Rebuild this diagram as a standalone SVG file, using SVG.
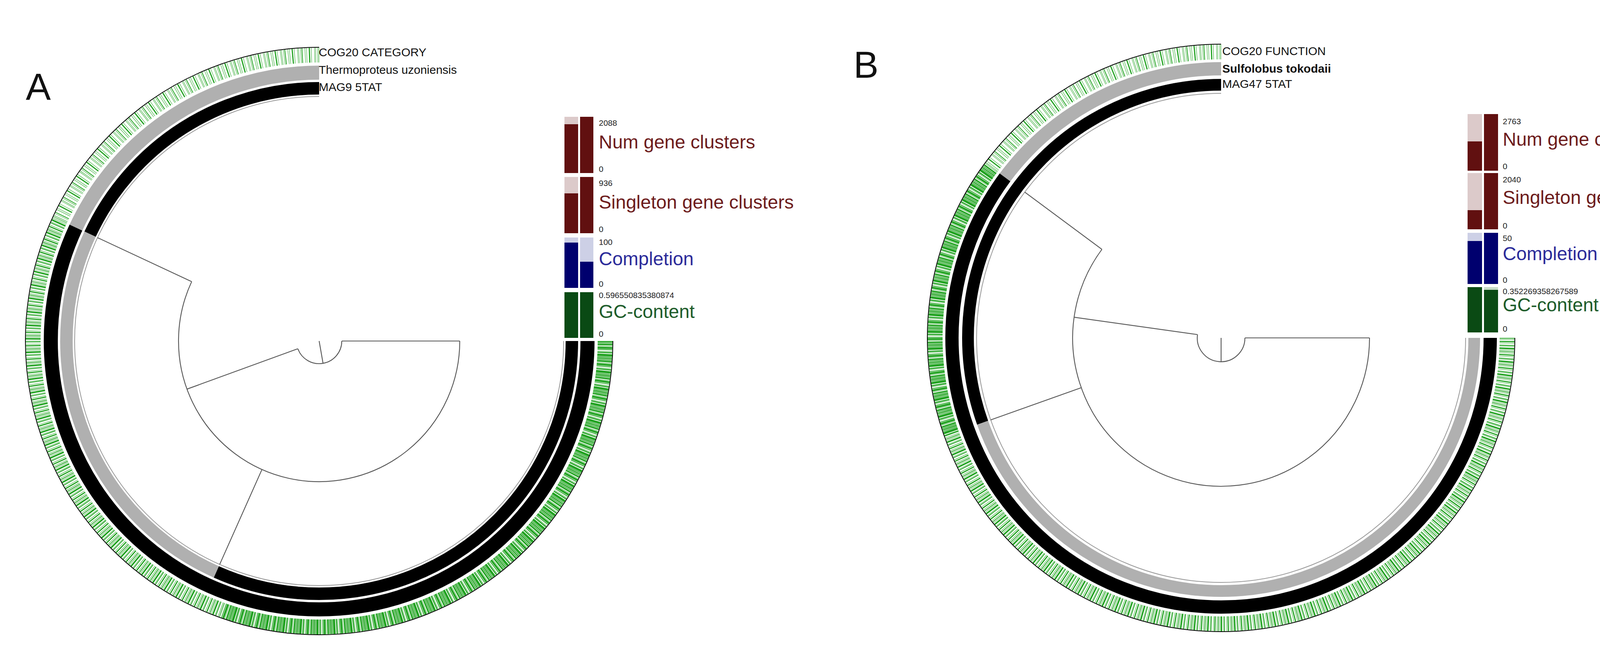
<svg xmlns="http://www.w3.org/2000/svg" width="4396" height="1664" viewBox="0 0 4396 1664">
<style>
text{font-family:"Liberation Sans",Arial,sans-serif;}
.ring{fill:none;}
.tree{fill:none;stroke:#555;stroke-width:2.2;}
.lab{font-size:30px;fill:#111;}
.num{font-size:21px;fill:#222;}
.big{font-size:48px;}
.panel{font-size:96px;fill:#111;}
.g{fill:none;stroke:#22a322;stroke-width:38;}
.dr{fill:#611010}.lr{fill:#dccaca}.nb{fill:#00006e}.lb{fill:#cdd0e6}.dg{fill:#0a4a14}.lg{fill:#c8dcc8}
</style>
<defs>
<clipPath id="aD"><polygon points="817,873 1717,873 1717,1773 509,1719"/></clipPath>
<clipPath id="aM"><polygon points="817,873 509,1719 -83,1773 1.3,492.7"/></clipPath>
<clipPath id="aS"><polygon points="817,873 1.3,492.7 -83,-27 817,-27"/></clipPath>
<clipPath id="bM"><polygon points="3126,865 4026,865 4026,1765 2226,1765 2278,1167"/></clipPath>
<clipPath id="bD"><polygon points="3126,865 2278,1167 2150,1000 2150,400 2403.5,328.4"/></clipPath>
<clipPath id="bS"><polygon points="3126,865 2403.5,328.4 2300,-35 3126,-35"/></clipPath>
</defs>

<g id="panelA">
<text class="panel" x="66" y="255">A</text>
<g id="A-cog-ring">
<circle cx="817" cy="873" r="732" class="g" clip-path="url(#aD)" stroke-dasharray="3 1 2 1 4 2 1 1 5 1 2 3 1 1 3 2 6 1 2 1"/>
<circle cx="817" cy="873" r="732" class="g" clip-path="url(#aM)" stroke-dasharray="2 2 1 3 3 2 1 4 2 1 1 3 4 2 1 2"/>
<circle cx="817" cy="873" r="732" class="g" clip-path="url(#aS)" stroke="#4fb84f" stroke-dasharray="1 4 1 2 2 6 1 3 1 5 3 3 1 7 1 2"/>
<circle cx="817" cy="873" r="752" class="ring" stroke="#000" stroke-width="2" pathLength="360" stroke-dasharray="270 90"/>
</g>
<g id="A-ring-thermoproteus">
<circle cx="817" cy="873" r="687" class="ring" stroke="#b0b0b0" stroke-width="36" pathLength="360" stroke-dasharray="65 295" stroke-dashoffset="-205"/>
<circle cx="817" cy="873" r="687" class="ring" stroke="#000" stroke-width="36" pathLength="360" stroke-dasharray="205 155"/>
</g>
<g id="A-ring-mag9">
<circle cx="817" cy="873" r="647" class="ring" stroke="#000" stroke-width="32" pathLength="360" stroke-dasharray="65 295" stroke-dashoffset="-205"/>
<circle cx="817" cy="873" r="647" class="ring" stroke="#b0b0b0" stroke-width="32" pathLength="360" stroke-dasharray="91 269" stroke-dashoffset="-114"/>
<circle cx="817" cy="873" r="647" class="ring" stroke="#000" stroke-width="32" pathLength="360" stroke-dasharray="114 246"/>
<circle cx="817" cy="873" r="626" class="ring" stroke="#999" stroke-width="2" pathLength="360" stroke-dasharray="270 90"/>
</g>
<text class="lab" x="816" y="144">COG20 CATEGORY</text>
<text class="lab" x="816" y="189">Thermoproteus uzoniensis</text>
<text class="lab" x="816" y="233">MAG9 5TAT</text>
<g id="A-bars">
<rect class="lr" x="1445" y="299" width="35" height="19"/><rect class="dr" x="1445" y="318" width="35" height="125"/>
<rect class="dr" x="1485" y="299" width="34" height="144"/>
<rect class="lr" x="1445" y="453" width="35" height="42"/><rect class="dr" x="1445" y="495" width="35" height="102"/>
<rect class="dr" x="1485" y="453" width="34" height="144"/>
<rect class="lb" x="1445" y="608" width="35" height="13"/><rect class="nb" x="1445" y="621" width="35" height="116"/>
<rect class="lb" x="1485" y="608" width="34" height="62"/><rect class="nb" x="1485" y="670" width="34" height="67"/>
<rect class="dg" x="1445" y="748" width="35" height="117"/><rect class="dg" x="1485" y="748" width="34" height="117"/>
<text class="num" x="1533" y="322">2088</text>
<text class="big" x="1533" y="380" fill="#6d1c1c">Num gene clusters</text>
<text class="num" x="1533" y="440">0</text>
<text class="num" x="1533" y="476">936</text>
<text class="big" x="1533" y="534" fill="#6d1c1c">Singleton gene clusters</text>
<text class="num" x="1533" y="594">0</text>
<text class="num" x="1533" y="627">100</text>
<text class="big" x="1533" y="679" fill="#2b2b9a">Completion</text>
<text class="num" x="1533" y="734">0</text>
<text class="num" x="1533" y="763" font-size="17">0.596550835380874</text>
<text class="big" x="1533" y="814" fill="#1d5c2a">GC-content</text>
<text class="num" x="1533" y="862">0</text>
</g>
</g>

<g id="panelB">
<text class="panel" x="2185" y="199">B</text>
<g id="B-cog-ring">
<circle cx="3126" cy="865" r="732" class="g" clip-path="url(#bM)" stroke-dasharray="2 2 1 3 3 2 1 4 2 1 1 3 4 2 1 2"/>
<circle cx="3126" cy="865" r="732" class="g" clip-path="url(#bD)" stroke-dasharray="3 1 2 1 4 2 1 1 5 1 2 3 1 1 3 2 6 1 2 1"/>
<circle cx="3126" cy="865" r="732" class="g" clip-path="url(#bS)" stroke="#4fb84f" stroke-dasharray="1 4 1 2 2 6 1 3 1 5 3 3 1 7 1 2"/>
<circle cx="3126" cy="865" r="752" class="ring" stroke="#000" stroke-width="2" pathLength="360" stroke-dasharray="270 90"/>
</g>
<g id="B-ring-sulfolobus">
<circle cx="3126" cy="865" r="689" class="ring" stroke="#b0b0b0" stroke-width="34" pathLength="360" stroke-dasharray="53.4 306.6" stroke-dashoffset="-216.6"/>
<circle cx="3126" cy="865" r="689" class="ring" stroke="#000" stroke-width="34" pathLength="360" stroke-dasharray="216.6 143.4"/>
</g>
<g id="B-ring-mag47">
<circle cx="3126" cy="865" r="648" class="ring" stroke="#000" stroke-width="30" pathLength="360" stroke-dasharray="109.6 250.4" stroke-dashoffset="-160.4"/>
<circle cx="3126" cy="865" r="648" class="ring" stroke="#b0b0b0" stroke-width="30" pathLength="360" stroke-dasharray="160.4 199.6"/>
<circle cx="3126" cy="865" r="626" class="ring" stroke="#999" stroke-width="2" pathLength="360" stroke-dasharray="270 90"/>
</g>
<text class="lab" x="3129" y="141">COG20 FUNCTION</text>
<text class="lab" x="3129" y="186" font-weight="bold">Sulfolobus tokodaii</text>
<text class="lab" x="3129" y="225">MAG47 5TAT</text>
<g id="B-bars">
<rect class="lr" x="3757" y="292" width="37" height="70"/><rect class="dr" x="3757" y="362" width="37" height="75"/>
<rect class="dr" x="3799" y="292" width="36" height="145"/>
<rect class="lr" x="3757" y="443" width="37" height="95"/><rect class="dr" x="3757" y="538" width="37" height="49"/>
<rect class="dr" x="3799" y="443" width="36" height="144"/>
<rect class="lb" x="3757" y="596" width="37" height="21"/><rect class="nb" x="3757" y="617" width="37" height="110"/>
<rect class="nb" x="3799" y="596" width="36" height="131"/>
<rect class="dg" x="3757" y="735" width="37" height="116"/>
<rect class="lg" x="3799" y="735" width="36" height="7"/><rect class="dg" x="3799" y="742" width="36" height="109"/>
<text class="num" x="3847" y="318">2763</text>
<text class="big" x="3847" y="373" font-size="47" fill="#6d1c1c">Num gene clusters</text>
<text class="num" x="3847" y="433">0</text>
<text class="num" x="3847" y="467">2040</text>
<text class="big" x="3847" y="522" font-size="47" fill="#6d1c1c">Singleton gene clusters</text>
<text class="num" x="3847" y="585">0</text>
<text class="num" x="3847" y="617">50</text>
<text class="big" x="3847" y="666" font-size="47" fill="#2b2b9a">Completion</text>
<text class="num" x="3847" y="724">0</text>
<text class="num" x="3847" y="753" font-size="17">0.352269358267589</text>
<text class="big" x="3847" y="797" font-size="47" fill="#1d5c2a">GC-content</text>
<text class="num" x="3847" y="849">0</text>
</g>
</g>

<g id="connectors">
<path class="tree" d="M817 873 L827 930"/>
<path class="tree" d="M875 873 A58 58 0 0 1 762.5 892.8"/>
<path class="tree" d="M762.5 892.8 L478.7 996.1"/>
<path class="tree" d="M875 873 L1177 873"/>
<path class="tree" d="M1177 873 A360 360 0 1 1 490.7 720.9"/>
<path class="tree" d="M490.7 720.9 L249.7 608.4"/>
<path class="tree" d="M670.6 1201.9 L562.4 1444.9"/>
<path class="tree" d="M3126 865 L3126 926"/>
<path class="tree" d="M3187 865 A61 61 0 1 1 3065.6 856.5"/>
<path class="tree" d="M3065.6 856.5 L2749.7 812.1"/>
<path class="tree" d="M3187 865 L3506 865"/>
<path class="tree" d="M3506 865 A380 380 0 1 1 2820.9 638.4"/>
<path class="tree" d="M2820.9 638.4 L2623.4 491.8"/>
<path class="tree" d="M2768 992.5 L2536.2 1075"/>
</g>
</svg>
